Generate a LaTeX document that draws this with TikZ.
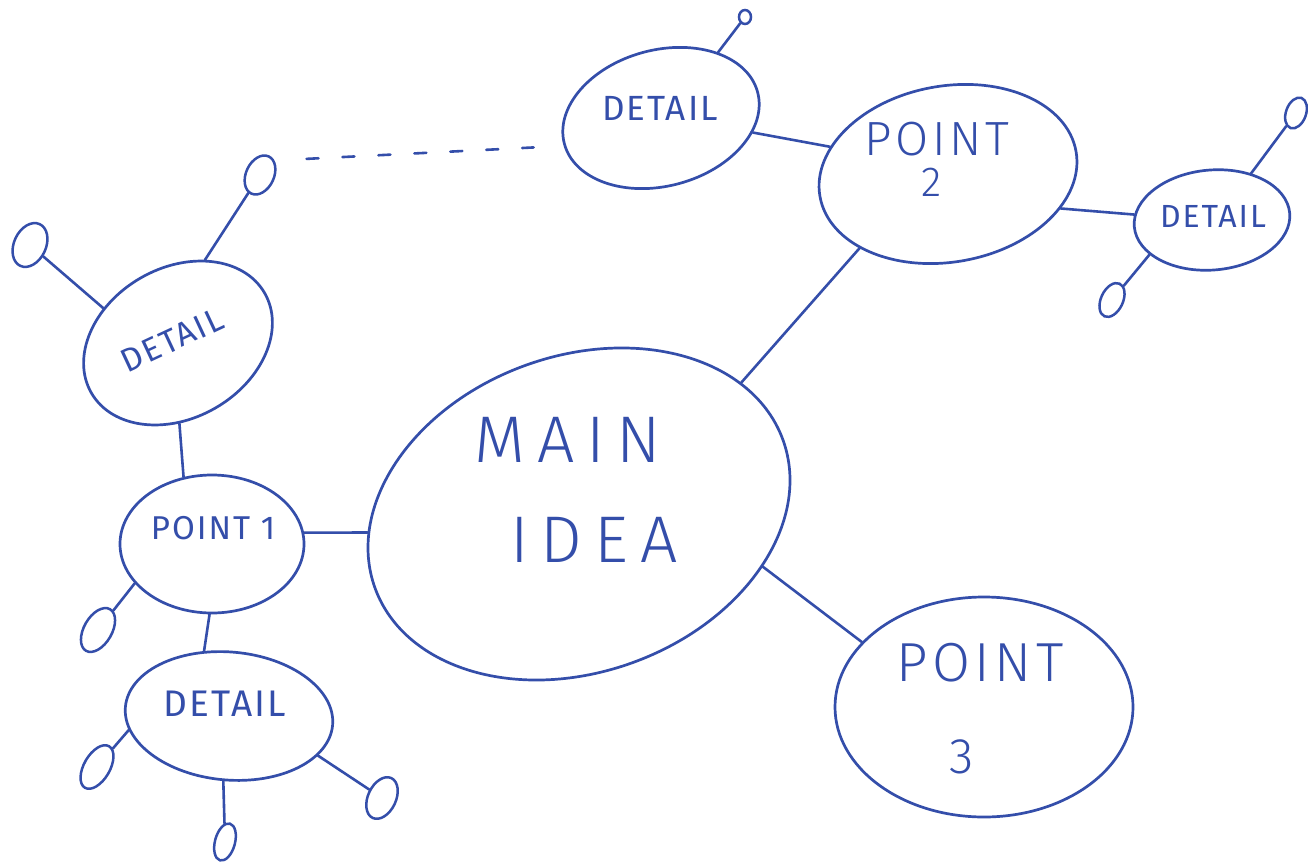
\documentclass[tikz,border=0pt]{standalone}
\usepackage{fontspec}
\setmainfont{Fira Sans}
\newfontfamily\hand[LetterSpace=6]{Fira Sans}
\newfontfamily\handmid[LetterSpace=8]{Fira Sans Light}
\newfontfamily\handlight[LetterSpace=18]{Fira Sans Light}
\usetikzlibrary{shapes.geometric}
\definecolor{ink}{RGB}{52,78,170}
\begin{document}
\begin{tikzpicture}[x=1pt,y=-1pt,color=ink,line width=2.7pt,line cap=round,
  bub/.style 2 args={ellipse,draw,inner sep=0pt,minimum width=#1,minimum height=#2},
  pip/.style 2 args={ellipse,draw,inner sep=0pt,minimum width=#1,minimum height=#2,line width=2.5pt},
  link/.style={line width=2.6pt},
  dots/.style={line width=2.6pt,dash pattern=on 12pt off 24pt,shorten <=32pt,shorten >=30pt},
  lbl/.style={inner sep=0pt,font=\hand\fontsize{#1}{#1}\selectfont},
  mid/.style={inner sep=0pt,font=\handmid\fontsize{#1}{#1}\selectfont},
  big/.style={inner sep=0pt,font=\handlight\fontsize{#1}{#1}\selectfont}]
\useasboundingbox[fill=white] (0,0) rectangle (1308,864);
% bubbles
\node[bub={434}{316},rotate=20] (main) at (579,514) {};
\node[bub={184}{138}] (p1) at (212,544) {};
\node[bub={200}{150},rotate=30] (dul) at (178,343) {};
\node[bub={208}{128},rotate=-5] (dbot) at (229,716) {};
\node[bub={260}{176},rotate=10] (p2) at (948,174) {};
\node[bub={200}{136},rotate=15] (dtop) at (661,118) {};
\node[bub={156}{100},rotate=5] (dright) at (1212,220) {};
\node[bub={298}{220}] (p3) at (984,707) {};
% small end circles
\node[pip={28}{41},rotate=-25] (pA) at (260,175) {};
\node[pip={32}{46},rotate=-25] (pB) at (30,245) {};
\node[pip={28}{48},rotate=-30] (pC) at (98,630) {};
\node[pip={26}{48},rotate=-30] (pD) at (97,767) {};
\node[pip={20}{38},rotate=-15] (pE) at (225,842) {};
\node[pip={28}{44},rotate=-25] (pF) at (382,798) {};
\node[pip={12}{14}] (pG) at (745,17) {};
\node[pip={20}{32},rotate=-20] (pH) at (1296,113) {};
\node[pip={22}{36},rotate=-25] (pI) at (1112,300) {};
% connectors
\draw[link] (p1.7) -- (main.165);
\draw[link] (main.19) -- (p2.210);
\draw[link] (main.324) -- (p3.152);
\draw[link] (p1.113) -- (dul.241);
\draw[link] (p1.268) -- (dbot.116);
\draw[link] (p2.157) -- (dtop.336);
\draw[link] (p2.333) -- (dright.171);
\draw[link] (dtop.34) -- (pG);
\draw[link] (dul.42) -- (pA);
\draw[link] (dul.125) -- (pB);
\draw[link] (p1.207) -- (pC);
\draw[link] (dbot.193) -- (pD);
\draw[link] (dbot.270) -- (pE);
\draw[link] (dbot.341) -- (pF);
\draw[link] (dright.45) -- (pH);
\draw[link] (dright.204) -- (pI);
\draw[dots] (pA.70) -- (dtop.181);
% texts
\node[big=66] (tmain) at (568,440) {MAIN};
\node[big=66] (tidea) at (594,540) {IDEA};
\node[lbl=33] (tp1) at (213,528) {POINT 1};
\node[mid=48] (tp2a) at (937,139) {POINT};
\node[mid=42] (tp2b) at (932,182) {2};
\node[mid=55] (tp3a) at (980,663) {POINT};
\node[mid=50] (tp3b) at (962,757) {3};
\node[lbl=35] (tdtop) at (660,108) {DETAIL};
\node[lbl=33,rotate=25] (tdul) at (172,340) {DETAIL};
\node[lbl=37] (tdbot) at (225,704) {DETAIL};
\node[lbl=32] (tdright) at (1213,216) {DETAIL};
\end{tikzpicture}
\end{document}
